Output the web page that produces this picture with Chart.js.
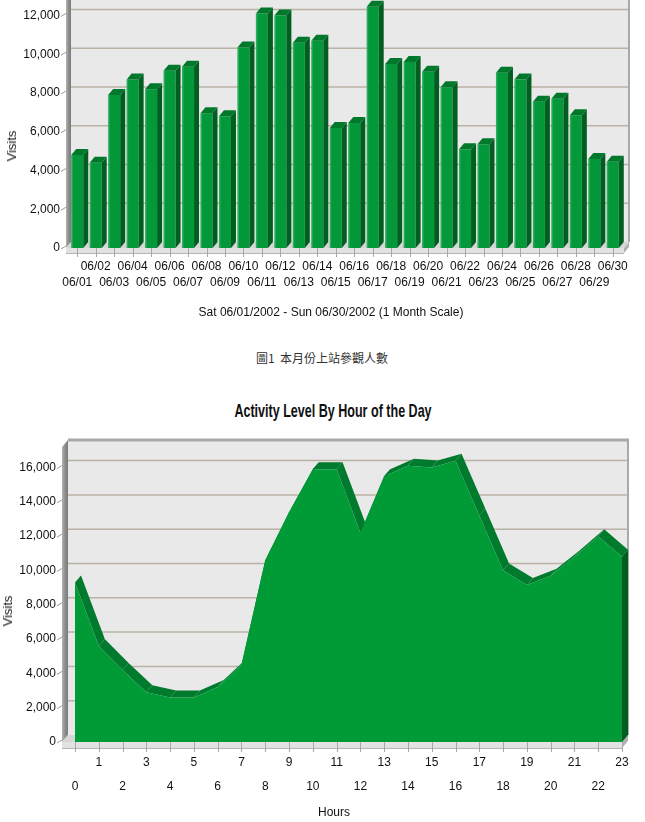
<!DOCTYPE html>
<html><head><meta charset="utf-8">
<script src="https://cdn.jsdelivr.net/npm/chart.js@4/dist/chart.umd.min.js"></script>
<style>
html,body{margin:0;padding:0;background:#fff;width:645px;height:822px;overflow:hidden;font-family:'Liberation Sans',Arial,sans-serif;}
canvas{position:absolute;left:0;}
#c1{top:0}
#c2{top:385px}
.t{position:absolute;white-space:nowrap;color:#111;text-align:center;}
.rot{position:absolute;white-space:nowrap;color:#111;font-size:13px;line-height:14px;transform:translate(-50%,-50%) rotate(-90deg);}
</style></head><body>
<canvas id="c1" width="645" height="322"></canvas>
<div class="rot" style="left:12px;top:146px;">Visits</div>
<div class="t" style="left:0;width:662px;top:305px;font-size:12px;line-height:14px;">Sat 06/01/2002 - Sun 06/30/2002 (1 Month Scale)</div>
<div class="t" style="left:0;width:644px;top:350px;font-size:12px;line-height:16px;font-family:'Noto Sans CJK TC',sans-serif;color:#333;">圖1&nbsp;&nbsp;本月份上站參觀人數</div>
<div class="t" style="left:0;width:666px;top:400px;font-size:19px;line-height:22px;font-weight:bold;transform:scaleX(0.66);">Activity Level By Hour of the Day</div>
<canvas id="c2" width="645" height="437"></canvas>
<div class="rot" style="left:8px;top:611px;">Visits</div>
<div class="t" style="left:0;width:668px;top:805px;font-size:12px;line-height:14px;">Hours</div>
<script>
const dates = ['06/01','06/02','06/03','06/04','06/05','06/06','06/07','06/08','06/09','06/10',
  '06/11','06/12','06/13','06/14','06/15','06/16','06/17','06/18','06/19','06/20',
  '06/21','06/22','06/23','06/24','06/25','06/26','06/27','06/28','06/29','06/30'];
const dailyVisits = [4800, 4400, 7900, 8700, 8200, 9150, 9350, 6950, 6800, 10350,
  12100, 12000, 10600, 10700, 6200, 6450, 12450, 9500, 9600, 9100,
  8300, 5100, 5350, 9050, 8700, 7550, 7700, 6850, 4600, 4450];
const dailyTicks = [0, 2000, 4000, 6000, 8000, 10000, 12000];
const hours = ['0','1','2','3','4','5','6','7','8','9','10','11','12','13','14','15','16','17','18','19','20','21','22','23'];
const hourlyVisits = [9300, 5600, 4200, 2900, 2600, 2600, 3200, 4500, 10600, 13400, 15900, 15900,
  12200, 15500, 16100, 16000, 16400, 13200, 10000, 9150, 9700, 10800, 12000, 10800];
const hourlyTicks = [0, 2000, 4000, 6000, 8000, 10000, 12000, 14000, 16000];

const F = "'Liberation Sans', Arial, sans-serif";

function poly(ctx, pts, fill){
  ctx.beginPath(); ctx.moveTo(pts[0][0], pts[0][1]);
  for (let i=1;i<pts.length;i++) ctx.lineTo(pts[i][0], pts[i][1]);
  ctx.closePath(); ctx.fillStyle = fill; ctx.fill();
}

function frame3d(o){
  return {
    id:'frame3d',
    beforeDatasetsDraw(chart){
      const {ctx, chartArea:ca, scales:{x,y}} = chart;
      const dx=o.dx, dy=o.dy;
      const L = ca.left - o.padL, R = ca.right + o.padR, T = ca.top, B = ca.bottom;
      ctx.save();
      // back wall
      ctx.fillStyle = '#e9e9e9';
      ctx.fillRect(L+dx, T-dy, R-L, B-T);
      // gridlines on back wall
      ctx.strokeStyle = '#bab2a4'; ctx.lineWidth = 1.5;
      y.ticks.forEach(t => {
        if (t.value <= 0) return;
        const py = y.getPixelForValue(t.value) - dy;
        ctx.beginPath(); ctx.moveTo(L+dx, py); ctx.lineTo(R+dx, py); ctx.stroke();
      });
      // top border and right border
      ctx.strokeStyle = '#a9a9a9'; ctx.lineWidth = 3;
      ctx.beginPath(); ctx.moveTo(L+dx, T-dy); ctx.lineTo(R+dx+1, T-dy); ctx.stroke();
      ctx.lineWidth = 2;
      ctx.beginPath(); ctx.moveTo(R+dx, T-dy); ctx.lineTo(R+dx, B-dy); ctx.stroke();
      // left wall
      const g = ctx.createLinearGradient(L, 0, L+dx, 0);
      g.addColorStop(0, '#b4b4b4'); g.addColorStop(0.5, '#8e8e8e'); g.addColorStop(1, '#7a7a7a');
      poly(ctx, [[L,T],[L+dx,T-dy],[L+dx,B-dy],[L,B]], g);
      // floor
      poly(ctx, [[L,B],[L+dx,B-dy],[R+dx,B-dy],[R,B]], '#d6d6d6');
      // front slab
      ctx.fillStyle = '#e2e2e2';
      ctx.fillRect(L, B, R-L, o.slab);
      poly(ctx, [[R,B],[R+dx,B-dy],[R+dx,B-dy+o.slab],[R,B+o.slab]], '#b0b0b0');
      ctx.strokeStyle = '#b4b4b4'; ctx.lineWidth = 1;
      ctx.beginPath(); ctx.moveTo(L, B+o.slab+0.5); ctx.lineTo(R, B+o.slab+0.5); ctx.stroke();
      // ticks on slab at category centres
      ctx.strokeStyle = '#a8a8a8';
      x.ticks.forEach((t,i) => {
        const px = Math.round(x.getPixelForTick(i)) + 0.5;
        ctx.beginPath(); ctx.moveTo(px, B); ctx.lineTo(px, B+o.slab+4); ctx.stroke();
      });
      // small y ticks left of wall
      ctx.strokeStyle = '#9a9a9a'; ctx.lineWidth = 1;
      y.ticks.forEach(t => {
        const py = y.getPixelForValue(t.value);
        ctx.beginPath(); ctx.moveTo(L-5, py+1); ctx.lineTo(L, py-2); ctx.stroke();
      });
      // area ridge (3D depth) for line charts
      if (o.area) {
        const pts = chart.getDatasetMeta(0).data.map(p => [p.x, p.y]);
        for (let i=0;i<pts.length-1;i++){
          const a=pts[i], b=pts[i+1];
          poly(ctx, [a, b, [b[0]+dx,b[1]-dy], [a[0]+dx,a[1]-dy]], '#007a2c');
        }
        const last = pts[pts.length-1];
        poly(ctx, [last, [last[0]+dx,last[1]-dy], [last[0]+dx,B-dy], [last[0],B]], '#005c1f');
      }
      ctx.restore();
    }
  };
}

const bars3d = {
  id:'bars3d',
  afterDatasetsDraw(chart){
    const {ctx} = chart; const dx=5, dy=6;
    ctx.save();
    chart.getDatasetMeta(0).data.forEach(el => {
      const {x, y, base, width} = el.getProps(['x','y','base','width'], true);
      const l = x - width/2, r = x + width/2;
      poly(ctx, [[r,y],[r+dx,y-dy],[r+dx,base-dy],[r,base]], '#005e20');
      poly(ctx, [[l,y],[l+dx,y-dy],[r+dx,y-dy],[r,y]], '#00782b');
      ctx.fillStyle = 'rgba(255,255,255,0.18)';
      ctx.fillRect(l, y, 1.5, base-y);
    });
    ctx.restore();
  }
};

function fitY(w){ return s => { s.width = w; s.paddingTop = 0; s.paddingBottom = 0; }; }

new Chart(document.getElementById('c1'), {
  type:'bar',
  data:{labels:dates, datasets:[{data:dailyVisits, backgroundColor:'#03983a', borderWidth:0, barPercentage:0.65, categoryPercentage:1}]},
  options:{
    responsive:false, animation:false, devicePixelRatio:1,
    layout:{padding:{left:0,right:23,top:0,bottom:0}},
    plugins:{legend:{display:false}, tooltip:{enabled:false}},
    scales:{
      x:{grid:{display:false, drawTicks:false}, border:{display:false},
        ticks:{autoSkip:false, maxRotation:0, minRotation:0, padding:11, color:'#111',
          font:{family:F, size:12, lineHeight:1.333},
          callback:(v,i)=> i%2===0 ? ['', dates[i]] : [dates[i], '']},
        afterFit:s=>{ s.height = 74; }},
      y:{min:0, max:12800, grid:{display:false, drawTicks:false}, border:{display:false},
        afterBuildTicks:s=>{ s.ticks = dailyTicks.map(v=>({value:v})); },
        ticks:{padding:8, color:'#111', font:{family:F, size:12},
          callback:v=>Number(v).toLocaleString('en-US')},
        afterFit:fitY(68)}
    }
  },
  plugins:[frame3d({dx:5, dy:6, padL:2, padR:2, slab:5, area:false}), bars3d]
});

new Chart(document.getElementById('c2'), {
  type:'line',
  data:{labels:hours, datasets:[{data:hourlyVisits, fill:'origin', backgroundColor:'#009a37', borderWidth:0, pointRadius:0, tension:0}]},
  options:{
    responsive:false, animation:false, devicePixelRatio:1,
    layout:{padding:{left:0,right:23,top:62,bottom:0}},
    plugins:{legend:{display:false}, tooltip:{enabled:false}},
    scales:{
      x:{offset:false, grid:{display:false, drawTicks:false}, border:{display:false},
        ticks:{autoSkip:false, maxRotation:0, minRotation:0, padding:9, color:'#111',
          font:{family:F, size:12, lineHeight:2},
          callback:(v,i)=> i%2===0 ? ['', hours[i]] : [hours[i], '']},
        afterFit:s=>{ s.height = 80; }},
      y:{min:0, max:17200, grid:{display:false, drawTicks:false}, border:{display:false},
        afterBuildTicks:s=>{ s.ticks = hourlyTicks.map(v=>({value:v})); },
        ticks:{padding:19, color:'#111', font:{family:F, size:12},
          callback:v=>Number(v).toLocaleString('en-US')},
        afterFit:fitY(75)}
    }
  },
  plugins:[frame3d({dx:6, dy:7, padL:13, padR:0, slab:6, area:true})]
});
</script>
</body></html>
